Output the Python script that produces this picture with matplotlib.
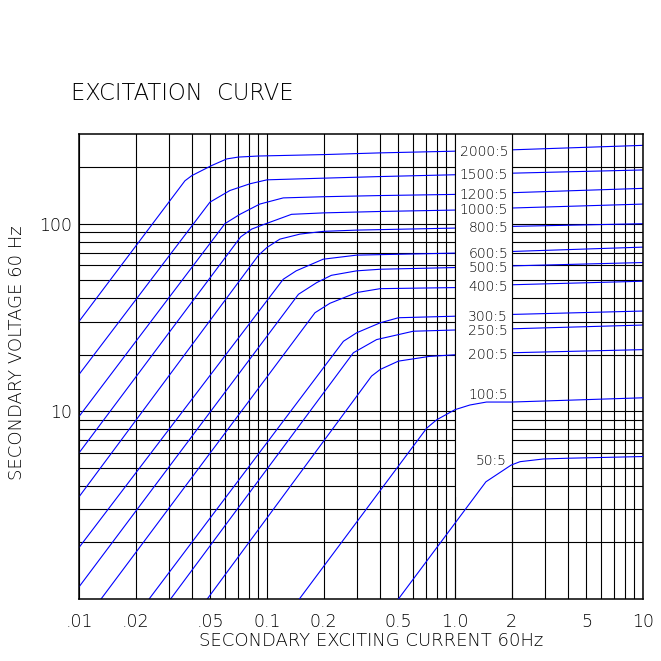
import numpy as np
import matplotlib
matplotlib.use("Agg")
import matplotlib.pyplot as plt
from matplotlib.patches import Rectangle

plt.rcParams["font.weight"] = 200

# ratio labels, top to bottom
ratios = ["2000:5", "1500:5", "1200:5", "1000:5", "800:5", "600:5", "500:5",
          "400:5", "300:5", "250:5", "200:5", "100:5", "50:5"]

# exciting current (A) / secondary voltage (V)
i_2000 = [0.01, 0.0366, 0.0398, 0.0509, 0.0611, 0.0703, 0.0899, 0.199, 0.4, 1.0, 2.0, 10]
v_2000 = [30.1, 169, 180, 204, 221, 226, 229, 233, 238, 243, 247, 261]
i_1500 = [0.01, 0.0497, 0.0635, 0.0813, 0.1, 0.199, 0.4, 1.0, 2.0, 10]
v_1500 = [15.7, 130, 150, 163, 171, 174.5, 178, 182, 185.5, 193]
i_1200 = [0.01, 0.0598, 0.0718, 0.0915, 0.122, 0.2, 0.4, 1.0, 2.0, 10]
v_1200 = [9.38, 100, 112, 127, 137, 139, 141, 143, 146, 154]
i_1000 = [0.01, 0.0725, 0.083, 0.0975, 0.135, 0.2, 0.4, 1.0, 2.0, 10]
v_1000 = [6.0, 85, 93.5, 99.4, 112, 114, 116, 118, 121, 127]
i_800 = [0.01, 0.09, 0.1, 0.117, 0.15, 0.2, 0.3, 1.0, 2.0, 10]
v_800 = [3.5, 67.7, 74.6, 82.6, 87.9, 90.9, 92.3, 94.6, 96.6, 99.8]
i_600 = [0.01, 0.122, 0.143, 0.199, 0.3, 1.0, 2.0, 10]
v_600 = [1.88, 50.5, 56, 64.6, 67.9, 69.6, 71, 74.9]
i_500 = [0.01, 0.147, 0.184, 0.22, 0.3, 0.4, 1.0, 2.0, 10]
v_500 = [1.16, 42, 48.5, 53, 56, 57.1, 58.3, 59.5, 62]
i_400 = [0.0131, 0.18, 0.216, 0.3, 0.4, 1.0, 2.0, 10]
v_400 = [1.0, 33.5, 37.6, 42.9, 45.0, 45.6, 47.2, 49.3]
i_300 = [0.0236, 0.255, 0.3, 0.4, 0.5, 1.0, 2.0, 10]
v_300 = [1.0, 23.6, 26.2, 29.6, 31.5, 32.1, 32.8, 34.2]
i_250 = [0.0307, 0.288, 0.383, 0.6, 1.0, 2.0, 10]
v_250 = [1.0, 20.5, 24.1, 26.7, 27.1, 27.5, 28.8]
i_200 = [0.0481, 0.36, 0.4, 0.5, 0.73, 1.0, 2.0, 10]
v_200 = [1.0, 15.4, 16.7, 18.5, 19.6, 20.0, 20.5, 21.3]
i_100 = [0.1486, 0.707, 0.799, 1.0, 1.2, 1.47, 2.0, 10]
v_100 = [1.0, 8.13, 9.01, 10.2, 10.8, 11.2, 11.2, 11.8]
i_50 = [0.5, 1.46, 1.99, 2.22, 2.95, 3.93, 10]
v_50 = [1.0, 4.21, 5.17, 5.39, 5.57, 5.62, 5.74]

curves = [(i_2000, v_2000), (i_1500, v_1500), (i_1200, v_1200), (i_1000, v_1000),
          (i_800, v_800), (i_600, v_600), (i_500, v_500), (i_400, v_400),
          (i_300, v_300), (i_250, v_250), (i_200, v_200), (i_100, v_100),
          (i_50, v_50)]

x_ticks = [0.01, 0.02, 0.05, 0.1, 0.2, 0.5, 1, 2, 5, 10]
x_ticklabels = [".01", ".02", ".05", "0.1", "0.2", "0.5", "1.0", "2", "5", "10"]
y_ticks = [10, 100]
y_ticklabels = ["10", "100"]

W = 661
fig = plt.figure(figsize=(6.61, 6.61), dpi=100)
ax = fig.add_axes([79 / W, 1 - 599 / W, (643 - 79) / W, (599 - 134) / W])
ax.set_xscale("log")
ax.set_yscale("log")
ax.set_xlim(0.01, 10)
ax.set_ylim(1, 300)

ax.set_xticks(x_ticks)
ax.set_xticklabels(x_ticklabels)
ax.set_xticks([k * 10.0 ** d for d in (-2, -1, 0) for k in range(2, 10)], minor=True)
ax.set_yticks(y_ticks)
ax.set_yticklabels(y_ticklabels)
ax.set_yticks([k * 10.0 ** d for d in (0, 1) for k in range(2, 10)] + [200], minor=True)
ax.tick_params(which="both", length=0, labelsize=12.5, labelcolor="black")
ax.tick_params(axis="x", pad=10)
ax.tick_params(axis="y", pad=5)
ax.set_axisbelow(True)
ax.grid(which="both", color="black", lw=0.8)
for s in ax.spines.values():
    s.set_linewidth(1.1)

# blank column for the ratio labels
ax.add_patch(Rectangle((1, 3.5), 1, 300 - 3.5, facecolor="white", edgecolor="none", zorder=2))
ax.axvline(1, color="black", lw=0.8, zorder=2.2)
ax.axvline(2, color="black", lw=0.8, zorder=2.2)

for name, (ii, vv) in zip(ratios, curves):
    low = name in ("100:5", "50:5")
    ax.plot(ii, vv, color="#0000ff", lw=0.8, zorder=3 if low else 1.5)
    v2 = 10 ** np.interp(np.log10(2.0), np.log10(ii), np.log10(vv))
    if name == "100:5":
        off = (-2.5, 5)
    elif name == "50:5":
        off = (-3.5, 2.5)
    else:
        off = (-2.5, -1.5)
    ax.annotate(name, (2.0, v2), xytext=off, textcoords="offset points",
                ha="right", va="center", fontsize=10, zorder=4)

fig.text(71 / W, 1 - 93.7 / W, "EXCITATION  CURVE", fontsize=16.3, ha="left", va="center")
fig.text(371 / W, 1 - 641.5 / W, "SECONDARY EXCITING CURRENT 60Hz", fontsize=13,
         ha="center", va="center")
fig.text(16.7 / W, 1 - 352.5 / W, "SECONDARY VOLTAGE 60 Hz", fontsize=13,
         rotation=90, ha="center", va="center")

fig.savefig("out.png", dpi=100)
